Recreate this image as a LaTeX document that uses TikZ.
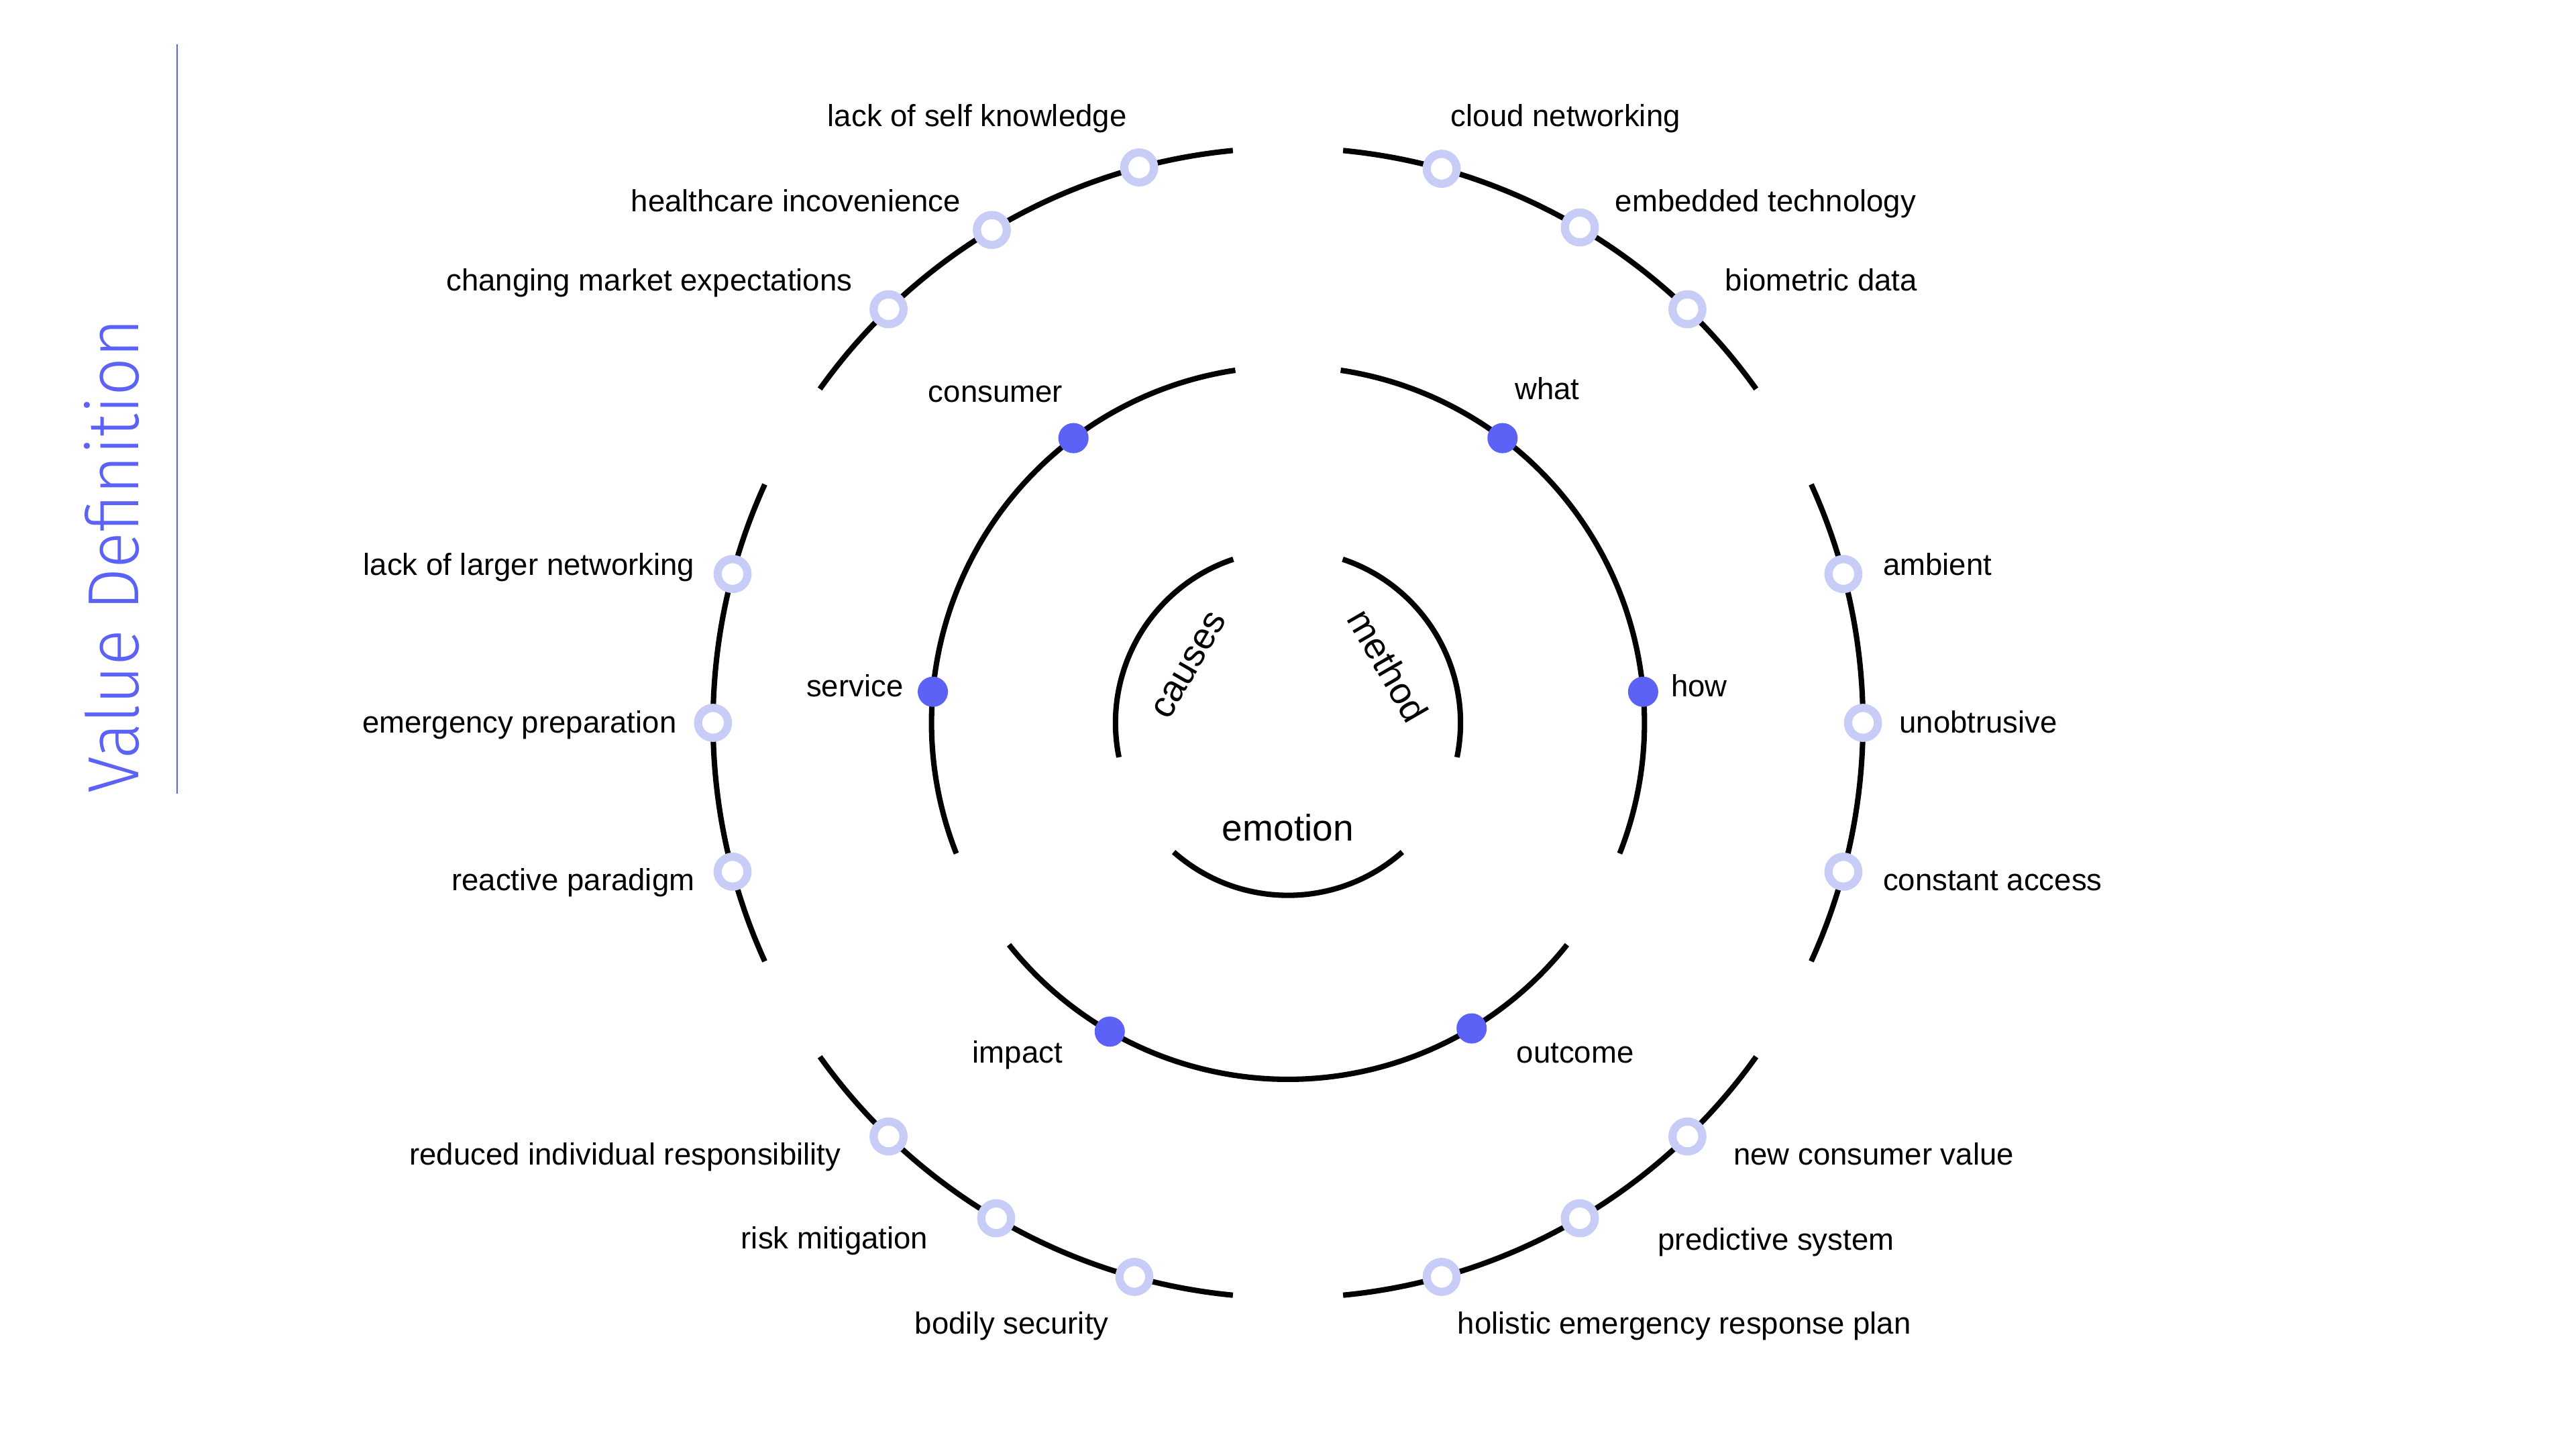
\documentclass[tikz,border=0pt]{standalone}
\usepackage{fontspec}
\setmainfont{Liberation Sans}
\newfontfamily\titlefont{Fira Sans Light}
\usepackage{xcolor}
\usepackage{tikz}

\definecolor{accent}{HTML}{5C62F5}
\definecolor{ringcol}{HTML}{C8CDF8}

\tikzset{
  arcline/.style={line width=3.3pt, black},
  ring/.style={circle, draw=ringcol, line width=5pt, fill=white, minimum size=18.2pt, inner sep=0pt},
  bead/.style={circle, fill=accent, minimum size=18.4pt, inner sep=0pt},
  lbl/.style={font=\fontsize{18.6}{22}\selectfont, inner sep=0pt},
  core/.style={font=\fontsize{22.5}{27}\selectfont, inner sep=0pt}
}

\begin{document}
\begin{tikzpicture}[x=1pt,y=1pt]
  \useasboundingbox (-784,-442) rectangle (784,440);

  % Draw title and rule
  \node[rotate=90, anchor=base west, text=accent, inner sep=0pt,
        font=\titlefont\fontsize{44}{44}\selectfont] (title) at (-699.6,-43) {\scalebox{0.93}[1]{Value Definition}};
  \coordinate (ruletop) at (-676.2,413);
  \coordinate (rulebot) at (-676.2,-43);
  \draw[accent, line width=1.2pt] (ruletop) -- (rulebot);

  % Draw outer ring
  \foreach \c in {0,60,...,300}
    \draw[arcline] ({\c-24.5}:350) arc[start angle=\c-24.5, end angle=\c+24.5, radius=350];

  % Draw middle ring
  \foreach \c in {30,150,270}
    \draw[arcline] ({\c-51.5}:217) arc[start angle=\c-51.5, end angle=\c+51.5, radius=217];

  % Draw inner ring
  \foreach \c in {30,150,270}
    \draw[arcline] ({\c-41.5}:105) arc[start angle=\c-41.5, end angle=\c+41.5, radius=105];

  % Draw core labels
  \node[core, rotate=60] (causes) at (-60,35) {causes};
  \node[core, rotate=-60] (method) at (61,35) {method};
  \node[core] (emotion) at (0,-64) {emotion};

  % Draw middle dots
  \node[bead] (consumer) at (127:217) {};
  \node[bead] (service) at (175:217) {};
  \node[bead] (what) at (53:217) {};
  \node[bead] (how) at (5:217) {};
  \node[bead] (impact) at (240:217) {};
  \node[bead] (outcome) at (301:217) {};

  % Draw outer dots
  \foreach \a/\n in {105/selfk,121/health,134/market,74.5/cloud,59.5/embed,46/biom,
                     165/larger,180/emerg,195/react,15/ambient,0/unobt,345/const,
                     226/reduced,239.5/risk,254.5/bodily,314/newval,300.5/predict,285.5/holist}
    \node[ring] (\n) at (\a:350) {};

  % Middle labels
  \node[lbl, anchor=base east] (consumer-l) at (-137,195) {consumer};
  \node[lbl, anchor=base east] (service-l) at (-234,16) {service};
  \node[lbl, anchor=base west] (what-l) at (138,197) {what};
  \node[lbl, anchor=base west] (how-l) at (233,16) {how};
  \node[lbl, anchor=base east] (impact-l) at (-137,-207) {impact};
  \node[lbl, anchor=base west] (outcome-l) at (139,-207) {outcome};

  % Outer labels, upper left
  \node[lbl, anchor=base east] (selfk-l) at (-98,363) {lack of self knowledge};
  \node[lbl, anchor=base east] (health-l) at (-199,311) {healthcare incovenience};
  \node[lbl, anchor=base east] (market-l) at (-265,263) {changing market expectations};

  % Outer labels, upper right
  \node[lbl, anchor=base west] (cloud-l) at (99,363) {cloud networking};
  \node[lbl, anchor=base west] (embed-l) at (199,311) {embedded technology};
  \node[lbl, anchor=base west] (biom-l) at (266,263) {biometric data};

  % Outer labels, left
  \node[lbl, anchor=base east] (larger-l) at (-361,90) {lack of larger networking};
  \node[lbl, anchor=base east] (emerg-l) at (-372,-6) {emergency preparation};
  \node[lbl, anchor=base east] (react-l) at (-361,-102) {reactive paradigm};

  % Outer labels, right
  \node[lbl, anchor=base west] (ambient-l) at (362,90) {ambient};
  \node[lbl, anchor=base west] (unobt-l) at (372,-6) {unobtrusive};
  \node[lbl, anchor=base west] (const-l) at (362,-102) {constant access};

  % Outer labels, lower left
  \node[lbl, anchor=base east] (reduced-l) at (-272,-269) {reduced individual responsibility};
  \node[lbl, anchor=base east] (risk-l) at (-219,-320) {risk mitigation};
  \node[lbl, anchor=base east] (bodily-l) at (-109,-372) {bodily security};

  % Outer labels, lower right
  \node[lbl, anchor=base west] (newval-l) at (271,-269) {new consumer value};
  \node[lbl, anchor=base west] (predict-l) at (225,-321) {predictive system};
  \node[lbl, anchor=base west] (holist-l) at (103,-372) {holistic emergency response plan};
\end{tikzpicture}
\end{document}
